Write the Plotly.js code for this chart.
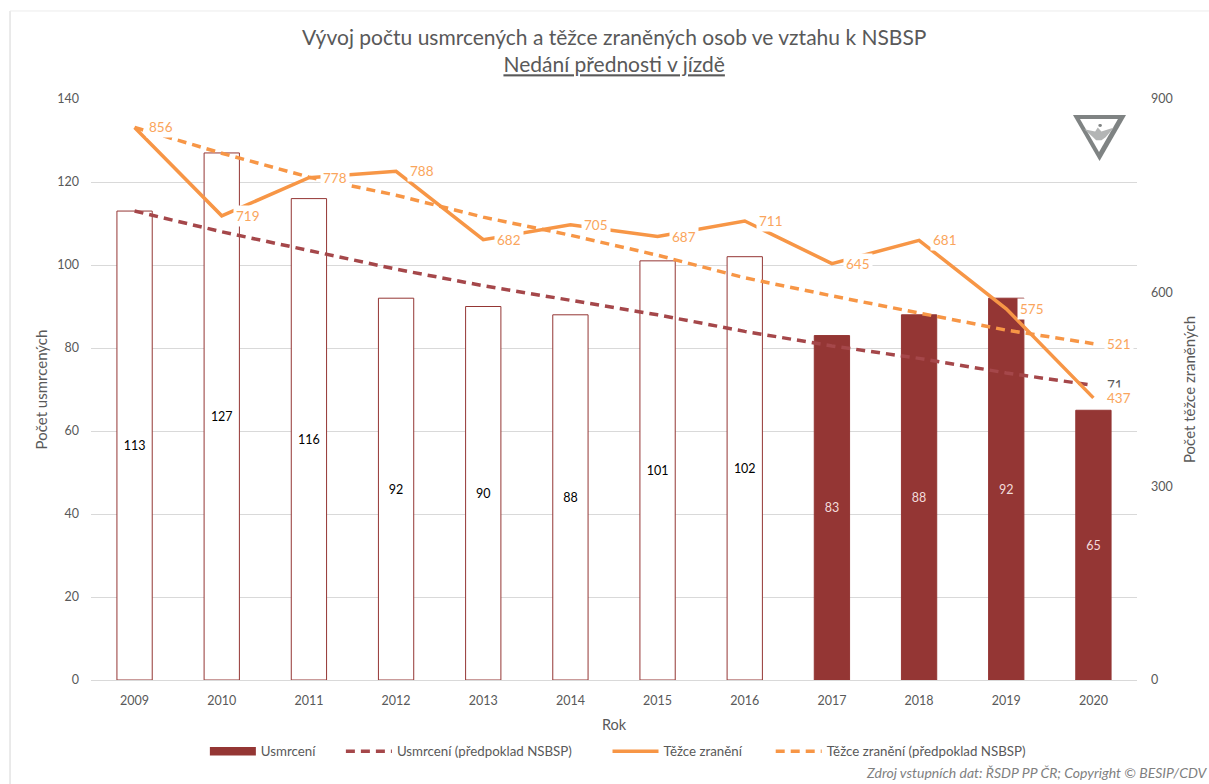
<!DOCTYPE html>
<html><head><meta charset="utf-8">
<script src="https://cdn.plot.ly/plotly-3.0.1.min.js"></script>
<style>html,body{margin:0;padding:0;background:#fff}#c{width:1209px;height:784px}</style>
</head><body><div id="c"></div>
<script>
const years=['2009','2010','2011','2012','2013','2014','2015','2016','2017','2018','2019','2020'];
const deaths=[113,127,116,92,90,88,101,102,83,88,92,65];
const deathsTrend=[113,108,103.5,99,95,91.5,88,84,80.5,77.5,74,71];
const injured=[856,719,778,788,682,705,687,711,645,681,575,437];
const injuredTrend=[856,816,779,751,717,689,658,623,595,568,542,521];
const filledFrom=8;
const RED='#943634', REDTREND='#A5474A', ORANGE='#F79646', LBL='#FAA55C', GREY='#595959';
const FONT='Lato, "Open Sans", sans-serif';
const pad=n=>'\u00a0'.repeat(n);

const traces=[
 {type:'bar',x:years,y:deaths,yaxis:'y',showlegend:false,
  marker:{color:deaths.map((v,i)=>i>=filledFrom?RED:'#ffffff'),line:{color:RED,width:1}},
  text:deaths.map(String),textposition:'inside',insidetextanchor:'middle',textangle:0,
  insidetextfont:{family:FONT,size:12.5,color:deaths.map((v,i)=>i>=filledFrom?'#f2dcdb':'#000000')},
  hoverinfo:'skip'},
 {type:'scatter',mode:'lines',x:[years[0]],y:[null],name:'Usmrcení'+pad(6),line:{color:RED,width:8.5},yaxis:'y'},
 {type:'scatter',mode:'lines',x:years,y:deathsTrend,name:'Usmrcení (předpoklad NSBSP)'+pad(9),yaxis:'y',
  line:{color:REDTREND,width:3.5,dash:'9px,6px'}},
 {type:'scatter',mode:'lines',x:years,y:injured,name:'Těžce zranění'+pad(7),yaxis:'y2',
  line:{color:ORANGE,width:3.5}},
 {type:'scatter',mode:'lines',x:years,y:injuredTrend,name:'Těžce zranění (předpoklad NSBSP)',yaxis:'y2',
  line:{color:ORANGE,width:3.5,dash:'9px,6px'}}
];

// on a category axis an annotation's x is the category's serial number
const lab=(i,y,c,ref)=>({x:i,y,text:String(y),xref:'x',yref:ref,xanchor:'left',yanchor:'middle',xshift:11,
  showarrow:false,bgcolor:'#ffffff',borderpad:2,font:{family:FONT,size:13.5,color:c}});
const annotations=[];
annotations.push(lab(11,deathsTrend[11],GREY,'y'));
years.forEach((yr,i)=>annotations.push(lab(i,injured[i],LBL,'y2')));
annotations.push(lab(11,injuredTrend[11],LBL,'y2'));
annotations.push({xref:'paper',yref:'paper',x:1.0695,y:-0.1584,xanchor:'right',yanchor:'middle',showarrow:false,
  text:'<i>Zdroj vstupních dat: ŘSDP PP ČR; Copyright © BESIP/CDV</i>',font:{family:FONT,size:14,color:'#7f7f7f'}});

const layout={
 width:1209,height:784,paper_bgcolor:'#fff',plot_bgcolor:'#fff',showlegend:true,
 margin:{l:91,r:72,t:99,b:104,pad:0},bargap:0.595,
 font:{family:FONT,color:GREY,size:12.5},
 title:{text:'Vývoj počtu usmrcených a těžce zraněných osob ve vztahu k NSBSP<br><u>Nedání přednosti v jízdě</u>',
  x:0.508,xanchor:'center',y:0.9426,yanchor:'top',font:{family:FONT,size:21,color:GREY}},
 xaxis:{type:'category',categoryorder:'array',categoryarray:years,range:[-0.5,11.5],showgrid:false,showline:true,linecolor:'#d9d9d9',linewidth:1,ticks:'',
  ticklabelstandoff:9,tickfont:{family:FONT,size:12.5,color:GREY},title:{text:'Rok',font:{family:FONT,size:14.5,color:GREY},standoff:12}},
 yaxis:{range:[0,140],tick0:0,dtick:20,gridcolor:'#d9d9d9',gridwidth:1,zeroline:false,showline:false,ticks:'',
  ticklabelstandoff:11,tickfont:{family:FONT,size:12.5,color:GREY},title:{text:'Počet usmrcených',font:{family:FONT,size:15,color:GREY},standoff:6}},
 yaxis2:{overlaying:'y',side:'right',range:[0,900],tick0:0,dtick:300,showgrid:false,zeroline:false,showline:false,ticks:'',
  ticklabelstandoff:13,tickfont:{family:FONT,size:12.5,color:GREY},title:{text:'Počet těžce zraněných',font:{family:FONT,size:15,color:GREY},standoff:12}},
 legend:{orientation:'h',x:0.5037,xanchor:'center',y:-0.0965,yanchor:'top',itemwidth:46,
  font:{family:FONT,size:13.3,color:GREY},traceorder:'normal'},
 annotations:annotations,
 shapes:[
  {type:'line',xref:'paper',yref:'paper',x0:-0.0774,x1:-0.0774,y0:-0.179,y1:1.1515,line:{color:'#e3e3e3',width:1.5}},
  {type:'line',xref:'paper',yref:'paper',x0:-0.0774,x1:1.0688,y0:1.1515,y1:1.1515,line:{color:'#ececec',width:1}},
  {type:'path',xref:'paper',yref:'paper',path:'M 0.9388 0.9725 L 0.9895 0.9725 L 0.9642 0.8933 Z',
   fillcolor:'#7f8383',line:{width:0},layer:'above'},
  {type:'path',xref:'paper',yref:'paper',path:'M 0.9455 0.9656 L 0.9818 0.9656 L 0.9637 0.9088 Z',
   fillcolor:'#ffffff',line:{width:0},layer:'above'},
  {type:'path',xref:'paper',yref:'paper',path:'M 0.9495 0.9480 L 0.9600 0.9440 L 0.9625 0.9510 L 0.9660 0.9440 L 0.9780 0.9510 L 0.9700 0.9340 L 0.9660 0.9290 L 0.9610 0.9290 L 0.9570 0.9360 Z',
   fillcolor:'#b3b5b5',line:{width:0},layer:'above'},
  {type:'circle',xref:'paper',yref:'paper',x0:0.9630,x1:0.9665,y0:0.9520,y1:0.9570,fillcolor:'#7f8383',line:{width:0},layer:'above'}
 ]
};
Plotly.newPlot('c',traces,layout,{displayModeBar:false,staticPlot:true});
</script></body></html>
